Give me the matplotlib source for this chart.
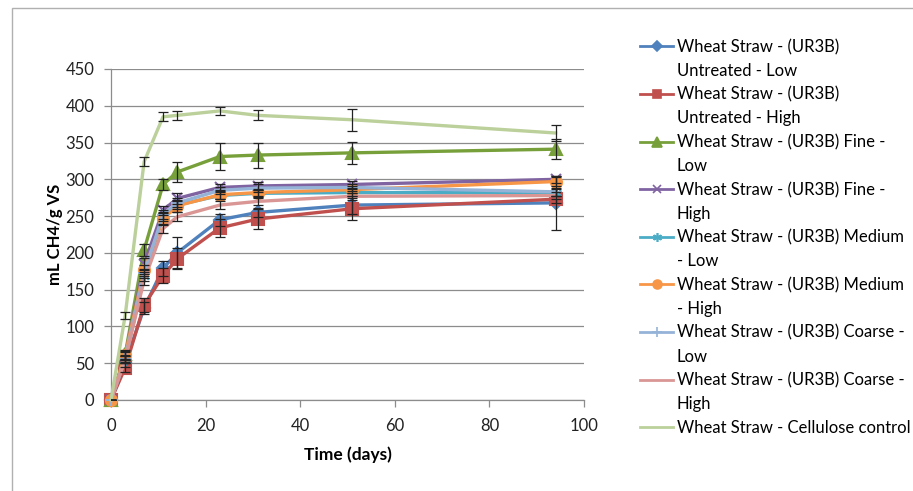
import numpy as np
import matplotlib
matplotlib.use("Agg")
from matplotlib import pyplot as plt
from matplotlib.lines import Line2D
from matplotlib.patches import Rectangle

plt.rcParams['font.family'] = ['Lato', 'DejaVu Sans']

# sampling days
days = [0, 3, 7, 11, 14, 23, 31, 51, 94]

# mL CH4 / g VS
untreated_low = [0, 50, 125, 179, 200, 245, 255, 265, 268]
untreated_high = [0, 44, 129, 169, 192, 234, 246, 260, 273]
fine_low = [0, 62, 204, 293, 310, 331, 333, 336, 341]
fine_high = [0, 60, 185, 258, 274, 289, 291, 293, 300]
medium_low = [0, 55, 168, 250, 265, 278, 281, 282, 282]
medium_high = [0, 61, 177, 246, 264, 279, 282, 286, 297]
coarse_low = [0, 56, 172, 252, 268, 285, 288, 289, 283]
coarse_high = [0, 55, 163, 233, 249, 265, 270, 277, 278]
cellulose = [0, 115, 324, 385, 387, 393, 387, 381, 363]

# standard deviations (error bar half-heights)
err_untreated_low = [0, 5, 8, 10, 21, 8, 6, 12, 37]
err_untreated_high = [0, 6, 10, 10, 14, 12, 13, 15, 5]
err_fine_low = [0, 6, 8, 8, 13, 18, 17, 15, 14]
err_fine_high = [0, 5, 8, 6, 8, 5, 5, 5, 5]
err_medium_low = [0, 5, 6, 6, 6, 5, 5, 5, 5]
err_medium_high = [0, 5, 6, 8, 8, 6, 5, 5, 6]
err_coarse_low = [0, 5, 6, 6, 6, 5, 5, 5, 5]
err_coarse_high = [0, 5, 6, 6, 6, 5, 5, 5, 5]
err_cellulose = [0, 5, 6, 6, 6, 6, 7, 15, 11]

legend_lines = [
    ("Wheat Straw - (UR3B)", "Untreated - Low"),
    ("Wheat Straw - (UR3B)", "Untreated - High"),
    ("Wheat Straw - (UR3B) Fine -", "Low"),
    ("Wheat Straw - (UR3B) Fine -", "High"),
    ("Wheat Straw - (UR3B) Medium", "- Low"),
    ("Wheat Straw - (UR3B) Medium", "- High"),
    ("Wheat Straw - (UR3B) Coarse -", "Low"),
    ("Wheat Straw - (UR3B) Coarse -", "High"),
    ("Wheat Straw - Cellulose control",),
]

series = [
    (untreated_low, err_untreated_low, '#4F81BD', 'D', 6),
    (untreated_high, err_untreated_high, '#C0504D', 's', 8),
    (fine_low, err_fine_low, '#77A03A', '^', 9),
    (fine_high, err_fine_high, '#8064A2', 'x', 7),
    (medium_low, err_medium_low, '#4BACC6', (6, 2, 0), 8),
    (medium_high, err_medium_high, '#F79646', 'o', 8),
    (coarse_low, err_coarse_low, '#95B3D7', '+', 9),
    (coarse_high, err_coarse_high, '#D99694', 'None', 0),
    (cellulose, err_cellulose, '#BBD09A', 'None', 0),
]

fig = plt.figure(figsize=(9.13, 4.91), dpi=100)
ax = fig.add_axes([111 / 913, 91 / 491, 473 / 913, 331 / 491])

handles = []
for vals, errs, color, marker, ms in series:
    ax.errorbar(days, vals, yerr=errs, fmt='none', ecolor='#222222',
                elinewidth=0.9, capsize=3.5, capthick=0.9, zorder=4)
    ax.plot(days, vals, color=color, lw=2.4, marker=marker, ms=ms,
            mew=1.5, mec=color, mfc=color, zorder=3, clip_on=False)
    handles.append(Line2D([], [], color=color, lw=2.0, marker=marker,
                          ms=ms * 0.8, mew=1.2, mec=color, mfc=color))

leg_handles = []
leg_labels = []
blank = Line2D([], [], color='none')
for h, lines in zip(handles, legend_lines):
    leg_handles.append(h)
    leg_labels.append(lines[0])
    for extra in lines[1:]:
        leg_handles.append(blank)
        leg_labels.append(extra)

ax.set_xlim(0, 100)
ax.set_ylim(0, 450)
ax.set_xticks(range(0, 101, 20))
ax.set_yticks(range(0, 451, 50))
ax.grid(axis='y', color='#8c8c8c', lw=0.9)
ax.set_axisbelow(True)
for s in ['top', 'right']:
    ax.spines[s].set_visible(False)
for s in ['left', 'bottom']:
    ax.spines[s].set_color('#8c8c8c')
    ax.spines[s].set_linewidth(0.9)
ax.tick_params(axis='both', colors='#8c8c8c', labelcolor='#222222',
               labelsize=12, length=5, width=0.9)
ax.tick_params(axis='y', pad=7)
ax.tick_params(axis='x', pad=8)

ax.set_xlabel("Time (days)", fontsize=12.5, fontweight='bold', labelpad=9)
ax.set_ylabel("mL CH4/g VS", fontsize=12, fontweight='bold', labelpad=2)

fig.legend(leg_handles, leg_labels, loc='upper left',
           bbox_to_anchor=(640 / 913, 1 - 39 / 491), frameon=False,
           fontsize=12, handlelength=2.0, handletextpad=0.2,
           labelspacing=0.465, borderpad=0, borderaxespad=0)

# chart border
fig.patches.append(Rectangle((12 / 913, -0.05), 1.1, 1 - 8 / 491 + 0.05,
                             transform=fig.transFigure, fill=False,
                             edgecolor='#b0b0b0', lw=1.0))

fig.savefig("out.png", dpi=100)
